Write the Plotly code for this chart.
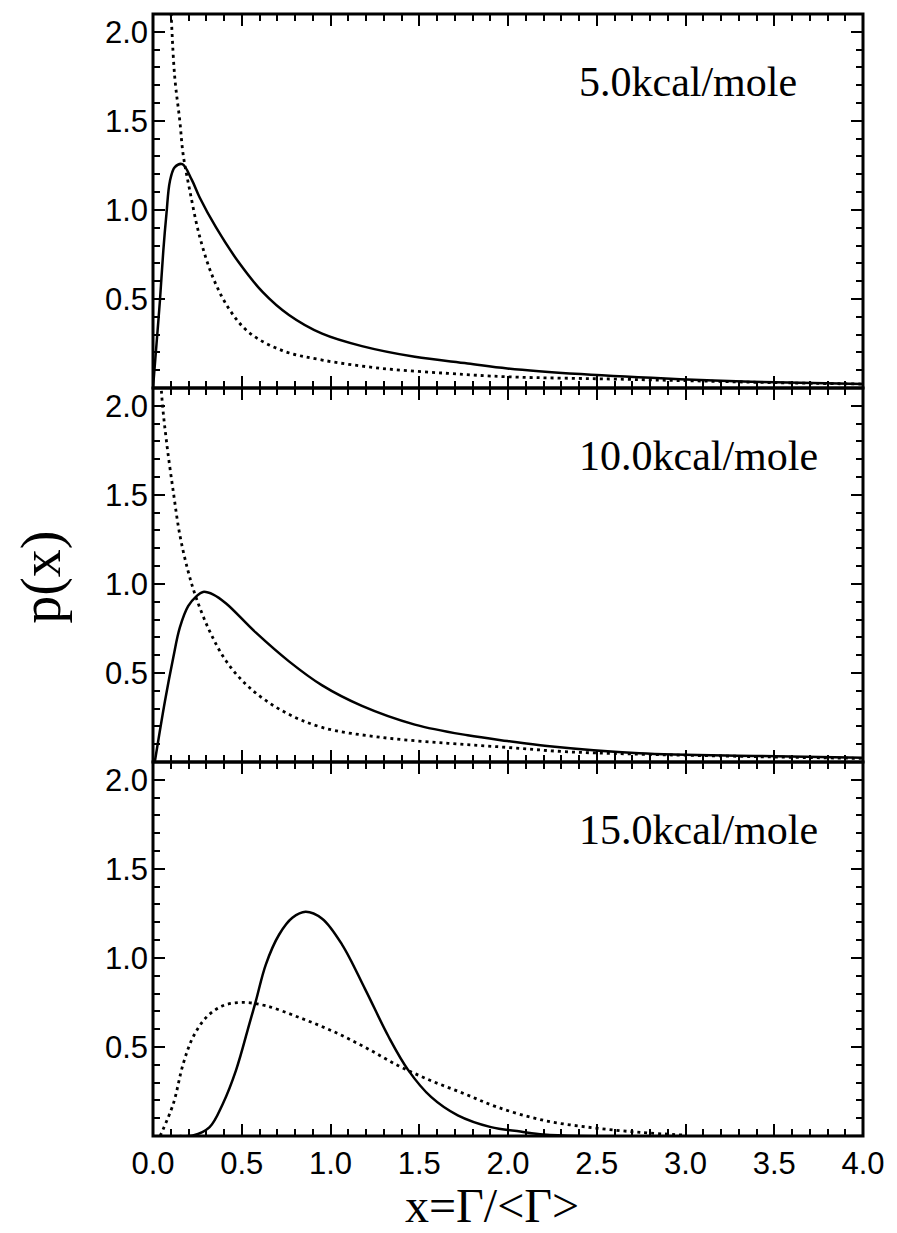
import plotly.graph_objects as go
from plotly.subplots import make_subplots

# Panel captions (activation barrier)
panel_labels = ["5.0kcal/mole", "10.0kcal/mole", "15.0kcal/mole"]

# 5.0 kcal/mole
x5_solid = [0.0, 0.02, 0.039, 0.058, 0.076, 0.095, 0.123, 0.165, 0.218, 0.263, 0.356, 0.487, 0.617,
            0.766, 0.953, 1.177, 1.475, 1.773, 1.997, 2.41, 2.97, 3.37, 4.0]
y5_solid = [0.0, 0.25, 0.49, 0.77, 0.98, 1.16, 1.24, 1.257, 1.17, 1.07, 0.90, 0.70, 0.54,
            0.41, 0.305, 0.235, 0.175, 0.138, 0.11, 0.078, 0.049, 0.035, 0.022]
x5_dot = [0.085, 0.104, 0.123, 0.151, 0.17, 0.207, 0.263, 0.338, 0.431, 0.543, 0.729, 0.953,
          1.289, 1.662, 1.997, 2.65, 3.05, 3.5, 4.0]
y5_dot = [2.5, 2.06, 1.74, 1.50, 1.31, 1.11, 0.85, 0.62, 0.44, 0.31, 0.21, 0.157,
          0.11, 0.082, 0.063, 0.049, 0.04, 0.03, 0.022]

# 10.0 kcal/mole
x10_solid = [0.01, 0.067, 0.114, 0.151, 0.198, 0.244, 0.282, 0.34, 0.412, 0.58, 0.766, 0.953,
             1.177, 1.475, 1.773, 1.997, 2.22, 2.74, 3.43, 4.0]
y10_solid = [0.0, 0.34, 0.586, 0.754, 0.875, 0.93, 0.955, 0.94, 0.89, 0.726, 0.565, 0.43,
             0.315, 0.21, 0.15, 0.118, 0.09, 0.049, 0.034, 0.024]
x10_dot = [0.035, 0.049, 0.076, 0.114, 0.151, 0.198, 0.244, 0.319, 0.412, 0.543, 0.729, 0.953,
           1.289, 1.662, 1.997, 2.32, 2.7, 3.4, 4.0]
y10_dot = [2.4, 2.06, 1.80, 1.52, 1.276, 1.07, 0.92, 0.735, 0.567, 0.418, 0.287, 0.194,
           0.138, 0.105, 0.082, 0.058, 0.045, 0.03, 0.02]

# 15.0 kcal/mole
x15_solid = [0.15, 0.225, 0.319, 0.393, 0.468, 0.543, 0.58, 0.636, 0.71, 0.785, 0.86, 0.953,
             1.065, 1.195, 1.326, 1.438, 1.568, 1.717, 1.904, 2.07, 2.2, 2.4, 4.0]
y15_solid = [0.0, 0.003, 0.05, 0.18, 0.37, 0.63, 0.76, 0.964, 1.13, 1.225, 1.259, 1.22,
             1.075, 0.825, 0.56, 0.37, 0.218, 0.116, 0.05, 0.025, 0.008, 0.0, 0.0]
x15_dot = [0.04, 0.114, 0.17, 0.225, 0.3, 0.393, 0.505, 0.636, 0.822, 1.009, 1.195, 1.382,
           1.568, 1.755, 1.94, 2.2, 2.48, 2.75, 3.0]
y15_dot = [0.0, 0.18, 0.405, 0.554, 0.666, 0.731, 0.75, 0.731, 0.666, 0.59, 0.498, 0.395,
           0.31, 0.237, 0.162, 0.088, 0.046, 0.02, 0.005]

x_ticks = [0.0, 0.5, 1.0, 1.5, 2.0, 2.5, 3.0, 3.5, 4.0]
y_ticks = [0.5, 1.0, 1.5, 2.0]

panels = [
    (x5_solid, y5_solid, x5_dot, y5_dot),
    (x10_solid, y10_solid, x10_dot, y10_dot),
    (x15_solid, y15_solid, x15_dot, y15_dot),
]

fig = make_subplots(rows=3, cols=1, shared_xaxes=True, vertical_spacing=0)

for i, (xs, ys, xd, yd) in enumerate(panels, start=1):
    suffix = str(i) if i > 1 else ""
    fig.add_trace(go.Scatter(x=xs, y=ys, mode="lines",
                             line=dict(color="black", width=2.5, shape="spline", smoothing=1.0),
                             showlegend=False), row=i, col=1)
    fig.add_trace(go.Scatter(x=xd, y=yd, mode="lines",
                             line=dict(color="black", width=2.8, shape="spline", smoothing=1.0,
                                       dash="3px,4px"),
                             showlegend=False), row=i, col=1)
    fig.add_annotation(x=2.39, y=1.72, xref="x" + suffix, yref="y" + suffix,
                       text=panel_labels[i - 1], showarrow=False, xanchor="left", yanchor="middle",
                       font=dict(family="Liberation Serif", size=42, color="black"))
    # frame around each panel
    fig.add_shape(type="rect", xref="x" + suffix + " domain", yref="y" + suffix + " domain",
                  x0=0, x1=1, y0=0, y1=1, line=dict(color="black", width=3), layer="above")

axis_common = dict(showline=False, mirror="ticks", ticks="inside", tickcolor="black",
                   tickwidth=2, showgrid=False, zeroline=False)
minor_ticks = dict(tickmode="linear", tick0=0, dtick=0.1, ticklen=7, ticks="inside",
                   tickcolor="black", tickwidth=2)

for i in range(1, 4):
    fig.update_xaxes(range=[0, 4], tickmode="array", tickvals=x_ticks, tickformat=".1f",
                     ticklen=12, minor=minor_ticks, ticklabelstandoff=6,
                     tickfont=dict(family="Liberation Sans", size=31, color="black"),
                     row=i, col=1, **axis_common)
    fig.update_yaxes(range=[0, 2.1], tickmode="array", tickvals=y_ticks, tickformat=".1f",
                     ticklen=12, minor=minor_ticks, ticklabelstandoff=4,
                     tickfont=dict(family="Liberation Sans", size=31, color="black"),
                     row=i, col=1, **axis_common)

fig.add_annotation(x=0.477, y=-0.0615, xref="paper", yref="paper", text="x=Γ/&lt;Γ&gt;",
                   showarrow=False, xanchor="center", yanchor="middle",
                   font=dict(family="Liberation Serif", size=48, color="black"))
fig.add_annotation(x=-0.157, y=0.498, xref="paper", yref="paper", text="p(x)", textangle=-90,
                   showarrow=False, xanchor="center", yanchor="middle",
                   font=dict(family="Liberation Serif", size=56, color="black"))

fig.update_layout(width=897, height=1233, margin=dict(l=153, r=29, t=14, b=97),
                  plot_bgcolor="white", paper_bgcolor="white")

fig.write_html("out.html")
